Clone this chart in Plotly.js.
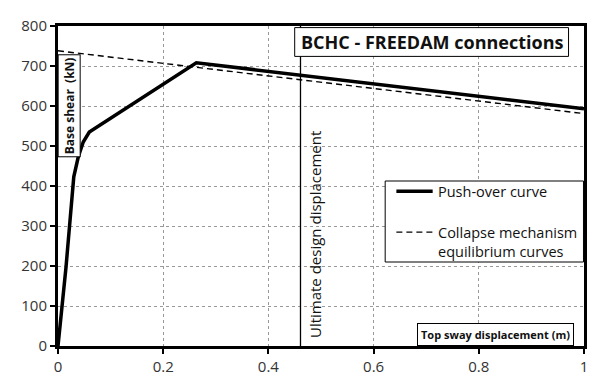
<!DOCTYPE html>
<html>
<head>
<meta charset="utf-8">
<script src="https://cdn.plot.ly/plotly-3.0.1.min.js"></script>
<style>html,body{margin:0;padding:0;background:#fff;}#chart{width:600px;height:388px;}</style>
</head>
<body>
<div id="chart"></div>
<script>
// Push-over curve (top sway displacement m, base shear kN)
var pushX = [0, 0.0152, 0.030, 0.0386, 0.048, 0.0595, 0.263, 1.0];
var pushY = [0, 197, 423, 473, 510, 535, 708, 593];
// Collapse mechanism equilibrium curve
var mechX = [0, 1.0];
var mechY = [738, 581];
// Ultimate design displacement
var ultX = [0.461, 0.461];
var ultY = [0, 800];
var xTicks = [0, 0.2, 0.4, 0.6, 0.8, 1];
var xTickText = ['0', '0.2', '0.4', '0.6', '0.8', '1'];
var yTicks = [0, 100, 200, 300, 400, 500, 600, 700, 800];

var FONT = 'Open Sans, Noto Sans, sans-serif';

var traces = [
  {x: ultX, y: ultY, mode: 'lines', line: {color: '#000', width: 1.3}, hoverinfo: 'skip', showlegend: false},
  {x: mechX, y: mechY, mode: 'lines', name: 'Collapse mechanism equilibrium curves',
   line: {color: '#000', width: 1.4, dash: '6px,4px'}, showlegend: false},
  {x: pushX, y: pushY, mode: 'lines', name: 'Push-over curve',
   line: {color: '#000', width: 3.5}, showlegend: false}
];

var layout = {
  width: 600, height: 388,
  margin: {l: 58, r: 15.5, t: 26, b: 42},
  paper_bgcolor: '#fff', plot_bgcolor: '#fff',
  font: {family: FONT, color: '#222'},
  xaxis: {range: [0, 1], tickvals: xTicks, ticktext: xTickText, showgrid: true,
    gridcolor: '#999', griddash: 'dot', gridwidth: 1,
    showline: true, linecolor: '#000', linewidth: 3, mirror: true,
    ticks: 'outside', ticklen: 5, tickwidth: 2, tickcolor: '#000',
    tickfont: {family: FONT, size: 15, color: '#333'}, zeroline: false, fixedrange: true},
  yaxis: {range: [0, 800], tickvals: yTicks, showgrid: true,
    gridcolor: '#999', griddash: 'dot', gridwidth: 1,
    showline: true, linecolor: '#000', linewidth: 3, mirror: true,
    ticks: 'outside', ticklen: 5, tickwidth: 2, tickcolor: '#000',
    tickfont: {family: FONT, size: 15, color: '#333'}, zeroline: false, fixedrange: true},
  showlegend: false,
  shapes: [
    // legend box
    {type: 'rect', xref: 'paper', yref: 'paper', x0: 0.622, x1: 0.999, y0: 0.2625, y1: 0.5156,
     fillcolor: '#fff', line: {color: '#000', width: 1}, layer: 'above'},
    {type: 'line', xref: 'paper', yref: 'paper', x0: 0.6433, x1: 0.7123, y0: 0.4834, y1: 0.4834,
     line: {color: '#000', width: 3.5}, layer: 'above'},
    {type: 'line', xref: 'paper', yref: 'paper', x0: 0.6433, x1: 0.7123, y0: 0.356, y1: 0.356,
     line: {color: '#000', width: 1.4, dash: '6px,4px'}, layer: 'above'},
    // title box
    {type: 'rect', xref: 'paper', yref: 'paper', x0: 0.450, x1: 0.9706, y0: 0.905, y1: 0.995,
     fillcolor: '#fff', line: {color: '#000', width: 1}, layer: 'above'}
  ],
  annotations: [
    {text: '<b>BCHC - FREEDAM connections</b>', xref: 'paper', yref: 'paper',
     x: 0.7103, y: 0.950, xanchor: 'center', yanchor: 'middle', showarrow: false,
     font: {family: FONT, size: 18, color: '#111'}},
    {text: 'Push-over curve', xref: 'paper', yref: 'paper', x: 0.7193, y: 0.4834,
     xanchor: 'left', yanchor: 'middle', showarrow: false, font: {family: FONT, size: 14.5, color: '#111'}},
    {text: 'Collapse mechanism<br>equilibrium curves', xref: 'paper', yref: 'paper', x: 0.7193, y: 0.326,
     xanchor: 'left', yanchor: 'middle', align: 'left', showarrow: false, font: {family: FONT, size: 14.5, color: '#111'}},
    {text: 'Ultimate design displacement', xref: 'paper', yref: 'paper', x: 0.490, y: 0.349,
     xanchor: 'center', yanchor: 'middle', textangle: -90, showarrow: false,
     font: {family: FONT, size: 15, color: '#111'}},
    {text: '<b>Base shear\u00a0 (kN)</b>', xref: 'paper', yref: 'paper', x: 0.0218, y: 0.7506,
     xanchor: 'center', yanchor: 'middle', textangle: -90, showarrow: false,
     bgcolor: '#fff', bordercolor: '#000', borderwidth: 1, borderpad: 2,
     font: {family: FONT, size: 12, color: '#111'}},
    {text: '<b>Top sway displacement (m)</b>', xref: 'paper', yref: 'paper', x: 0.832, y: 0.0366,
     xanchor: 'center', yanchor: 'middle', showarrow: false,
     bgcolor: '#fff', bordercolor: '#000', borderwidth: 1, borderpad: 3,
     font: {family: FONT, size: 11, color: '#111'}}
  ]
};

Plotly.newPlot('chart', traces, layout, {staticPlot: true, displayModeBar: false});
</script>
</body>
</html>
